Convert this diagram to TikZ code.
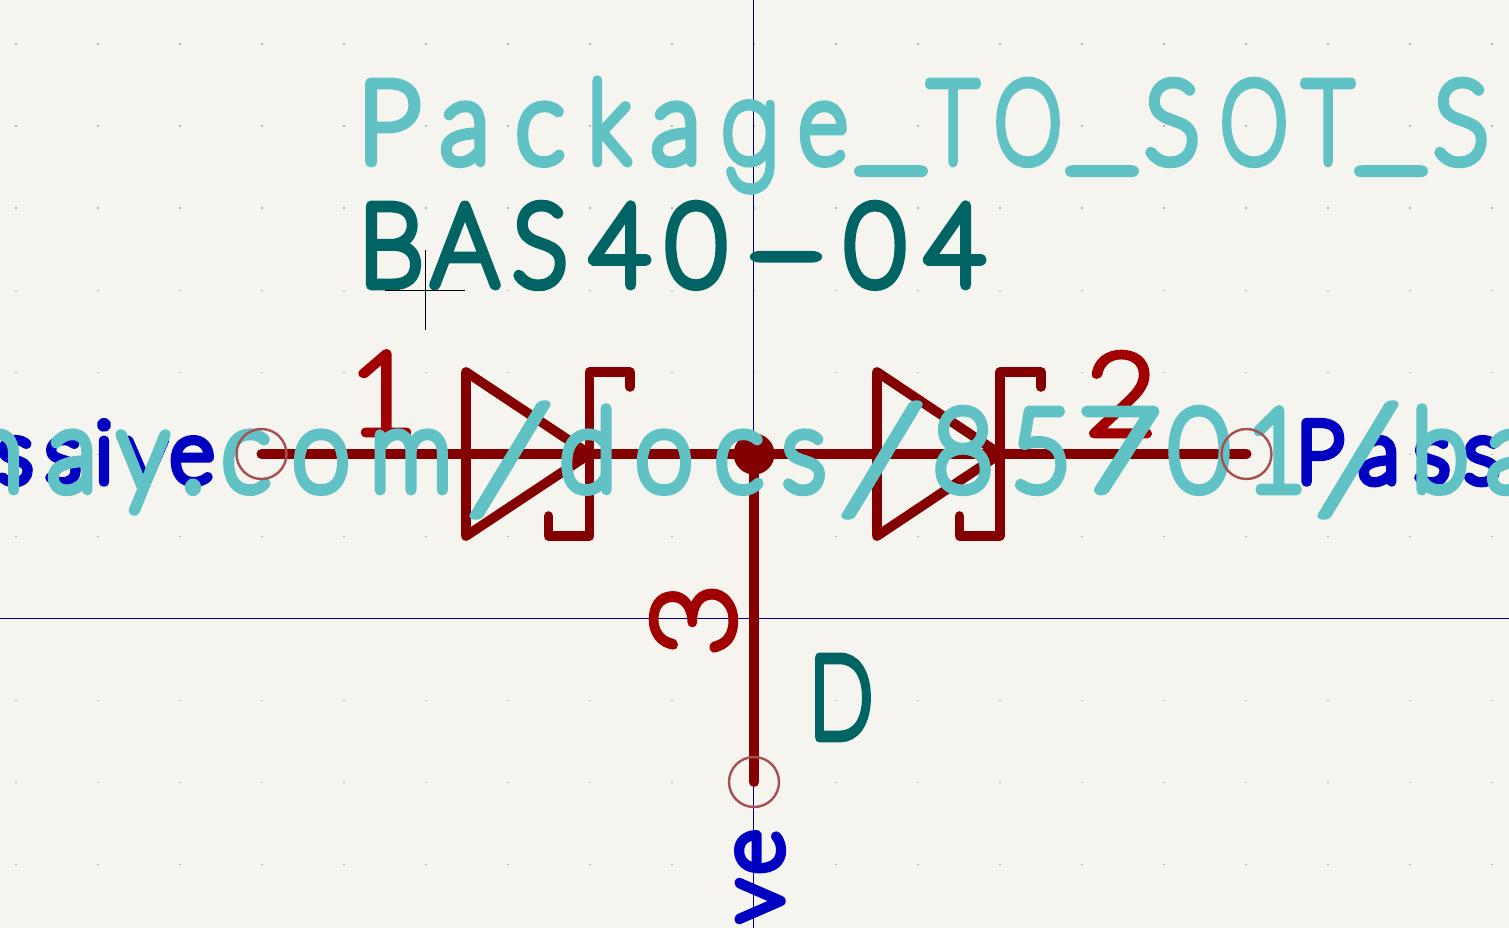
\documentclass[tikz,border=0pt]{standalone}
\usepackage{fontspec}
\usepackage{graphicx}
\newfontfamily\kfthin[FakeBold=9.4]{Lato Hairline}
\newfontfamily\kfred[FakeBold=7.6]{Lato Hairline}
\newfontfamily\kfblue[FakeBold=11]{Lato Hairline}
\newfontfamily\kfslash[FakeBold=5.4]{Lato Hairline}
\newfontfamily\kfgee[FakeBold=9]{Poppins Thin}
\definecolor{bgc}{HTML}{F5F4EF}
\definecolor{wirec}{HTML}{840000}
\definecolor{pinc}{HTML}{A00000}
\definecolor{tealc}{HTML}{006464}
\definecolor{cyanc}{HTML}{60C2C4}
\definecolor{bluec}{HTML}{0000C2}
\definecolor{navyc}{HTML}{000084}
\definecolor{ringc}{HTML}{A85050}
\definecolor{dotc}{HTML}{B4B4B0}
\def\xsd{0.92}
\def\ox{0}
\newcommand\cg[3][\xsd]{\rlap{\kern\dimexpr#2pt-\ox pt\relax\makebox[0pt][c]{\scalebox{#1}[1]{#3}}}}
\newcommand\lowbar{\raisebox{5pt}{\scalebox{1.45}[1]{\_}}}
\newcommand\lean{{\kfslash\raisebox{-20pt}{\scalebox{1.85}[1.3]{/}}}}
\newcommand\dashbar{\raisebox{-5pt}{-}}
\newcommand\singleg{{\kfgee\scalebox{0.74}[0.94]{g}}}
\tikzset{
  glyphs/.style={inner sep=0pt,outer sep=0pt,anchor=base west},
  big/.style={glyphs,font={\kfthin\fontsize{113}{113}\selectfont}},
  pinnum/.style={glyphs,text=pinc,font={\kfred\fontsize{113}{113}\selectfont}},
  pinblue/.style={glyphs,text=bluec,font={\kfblue\fontsize{85}{85}\selectfont}},
  wire/.style={draw=wirec,line width=10pt},
  body/.style={draw=wirec,line width=9.6pt},
  ring/.style={draw=ringc,line width=2.4pt},
  guide/.style={draw=navyc,line width=1pt,line cap=butt},
}
\begin{document}
\begin{tikzpicture}[x=1pt,y=-1pt,line join=round,line cap=round]
\useasboundingbox (0,0) rectangle (1509,928);
\fill[bgc] (0,0) rectangle (1509,928);
\foreach \i in {0,...,18}{\foreach \j in {0,...,10}{
  \fill[dotc] ({15+82*\i},{43.5+82*\j}) rectangle ++(1.5,1.5);}}
\coordinate (t0) at (753.5,0); \coordinate (t1) at (753.5,928);
\coordinate (h0) at (0,618); \coordinate (h1) at (1509,618);
\draw[guide] (t0) -- (t1);
\draw[guide] (h0) -- (h1);
% pins
\coordinate (pinL) at (261.5,454);
\coordinate (pinR) at (1246.5,454);
\coordinate (pinB) at (754,782);
\node[circle,fill=wirec,minimum size=41pt,inner sep=0pt] (junc) at (754,454) {};
\draw[wire] (pinL) -- (junc.center);
\draw[wire] (junc.center) -- (pinR);
\draw[wire] (junc.center) -- (pinB);
% diodes
\draw[body] (466,372) -- (589.5,454) -- (466,536) -- cycle;
\draw[body] (630,387) -- (630,372) -- (589.5,372) -- (589.5,536) -- (548.5,536) -- (548.5,516);
\draw[body] (877,372) -- (1000,454) -- (877,536) -- cycle;
\draw[body] (1041,387) -- (1041,372) -- (1000,372) -- (1000,536) -- (959.5,536) -- (959.5,516);
% blue pin types
\node[pinblue] (typeL) at (0,482) {\def\ox{0}\def\xsd{1}\hbox to 212pt{\cg{15}{s}\cg{63}{s}\cg{104}{i}\cg{146}{v}\cg{192}{e}\hss}};
\node[pinblue] (typeR) at (1300,482) {\def\ox{1300}\def\xsd{1}\hbox to 209pt{\cg{1320}{P}\cg{1379}{a}\cg{1432}{s}\cg{1482}{s}\hss}};
\node[pinblue,rotate=90] (typeB) at (781,921) {\def\ox{0}\def\xsd{1}\hbox to 90pt{\cg{20}{v}\cg{69}{e}\hss}};
% pin numbers
\node[pinnum] (n1) at (356,433) {\def\ox{356}\hbox to 56pt{\cg[1.05]{383}{1}\hss}};
\node[pinnum] (n2) at (1091,434) {\def\ox{1091}\hbox to 60pt{\cg[1.08]{1121}{2}\hss}};
\node[pinnum,rotate=90] (n3) at (733,650) {\def\ox{0}\hbox to 60pt{\cg[1.1]{30}{3}\hss}};
% value and reference
\node[big,text=tealc] (val) at (363,285) {\def\ox{363}\hbox to 623pt{\cg{391}{B}\cg{465}{A}\cg{540}{S}\cg{620}{4}\cg{696}{0}\cg[2.03]{786}{\dashbar}\cg{875}{0}\cg{955}{4}\hss}};
\node[big,text=tealc] (ref) at (814,737) {\def\ox{814}\hbox to 57pt{\cg[0.74]{841}{D}\hss}};
% footprint
\node[big,text=cyanc] (fp) at (363,162) {\def\ox{363}\hbox to 1127pt{\cg[1]{389}{P}\cg{465}{a}\cg{540}{c}\cg[0.82]{609}{k}\cg{676}{a}\cg[1]{750}{\singleg}\cg[0.84]{823}{e}\cg{891}{\lowbar}\cg[0.78]{953}{T}\cg[0.76]{1028}{O}\cg{1102}{\lowbar}\cg{1172}{S}\cg[0.76]{1254}{O}\cg[0.78]{1328}{T}\cg{1391}{\lowbar}\cg{1461}{S}\hss}};
% datasheet
\node[big,text=cyanc] (ds) at (0,490) {\def\ox{0}\hbox to 1509pt{\cg{-5}{h}\cg{72}{a}\cg{143}{y}\cg{193}{.}\cg{246}{c}\cg{321}{o}\cg{411}{m}\cg[1]{510}{\lean}\cg{588}{d}\cg{664}{o}\cg{739}{c}\cg{804}{s}\cg[1]{882}{\lean}\cg{963}{8}\cg{1041}{5}\cg[1.25]{1119}{7}\cg{1199}{0}\cg{1276}{1}\cg[1]{1358}{\lean}\cg{1440}{b}\cg{1511}{a}\hss}};
% rings
\draw[ring] (pinL) circle (25);
\draw[ring] (pinR) circle (25);
\draw[ring] (pinB) circle (25);
% cursor
\coordinate (cu) at (425,250); \coordinate (cd) at (425,330);
\coordinate (cl) at (385,290); \coordinate (cr) at (465,290);
\draw[black,line width=0.9pt,line cap=butt] (cu) -- (cd);
\draw[black,line width=0.9pt,line cap=butt] (cl) -- (cr);
\end{tikzpicture}
\end{document}
